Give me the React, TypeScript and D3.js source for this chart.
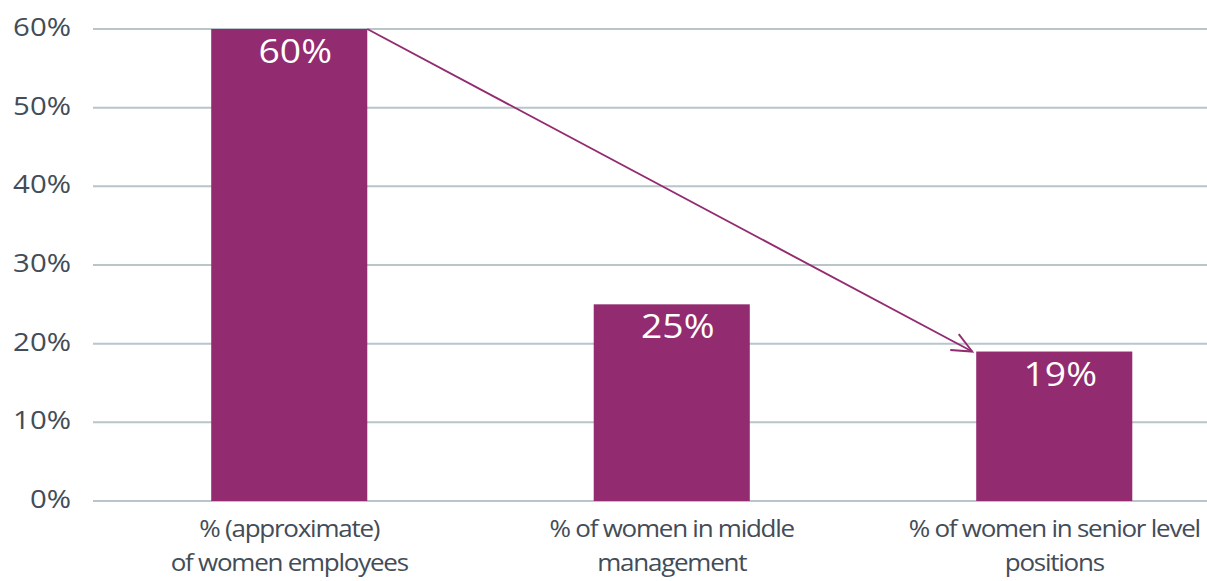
import React from "react";
import * as d3 from "d3";

const categories: string[][] = [
  ["% (approximate)", "of women employees"],
  ["% of women in middle", "management"],
  ["% of women in senior level", "positions"],
];
const values: number[] = [60, 25, 19];
const yTicks: number[] = [0, 10, 20, 30, 40, 50, 60];

const W = 1207;
const H = 581;
const BAR = "#922b6f";
const TEXT = "#434c57";
const GRID = "#b9c4cb";
const FONT = "'Open Sans', 'Noto Sans', sans-serif";
const SX = 1.13;

export default function App() {
  const keys = categories.map((c) => c.join(" "));
  const x = d3
    .scaleBand<string>()
    .domain(keys)
    .range([98, 1245.5])
    .paddingInner(0.592)
    .paddingOuter(0.296);
  const y = d3.scaleLinear().domain([0, 60]).range([501, 29]);
  const bw = x.bandwidth();
  const fmt = (v: number) => `${v}%`;

  const x0 = (x(keys[0]) as number) + bw;
  const y0 = y(values[0]);
  const x1 = (x(keys[2]) as number) - 4;
  const y1 = y(values[2]);
  const ang = Math.atan2(y1 - y0, x1 - x0);
  const headLen = 22;
  const spread = 0.42;
  const head = [ang + Math.PI - spread, ang + Math.PI + spread].map((a) => [
    x1 + headLen * Math.cos(a),
    y1 + headLen * Math.sin(a),
  ]);

  return (
    <svg
      width={W}
      height={H}
      style={{ position: "absolute", left: 0, top: 0, background: "#fff" }}
      fontFamily={FONT}
    >
      {yTicks.map((t) => (
        <g key={t}>
          <line x1={93} x2={W} y1={y(t)} y2={y(t)} stroke={GRID} strokeWidth={2} />
          <text
            transform={`translate(71,${y(t) + 7}) scale(${SX},1)`}
            textAnchor="end"
            fontSize={26}
            fill={TEXT}
          >
            {fmt(t)}
          </text>
        </g>
      ))}
      {keys.map((k, i) => (
        <g key={k}>
          <rect x={x(k)} y={y(values[i])} width={bw} height={y(0) - y(values[i])} fill={BAR} />
          <text
            transform={`translate(${(x(k) as number) + bw / 2 + 6},${y(values[i]) + 34}) scale(${SX},1)`}
            textAnchor="middle"
            fontSize={33}
            fill="#fff"
          >
            {fmt(values[i])}
          </text>
          {categories[i].map((line, j) => (
            <text
              key={j}
              transform={`translate(${(x(k) as number) + bw / 2},${537 + j * 34}) scale(${SX},1)`}
              textAnchor="middle"
              fontSize={23}
              letterSpacing={-1.1}
              fill={TEXT}
            >
              {line}
            </text>
          ))}
        </g>
      ))}
      <line x1={x0} y1={y0} x2={x1} y2={y1} stroke={BAR} strokeWidth={1.9} />
      <polyline
        points={`${head[0][0]},${head[0][1]} ${x1},${y1} ${head[1][0]},${head[1][1]}`}
        fill="none"
        stroke={BAR}
        strokeWidth={1.9}
      />
    </svg>
  );
}
